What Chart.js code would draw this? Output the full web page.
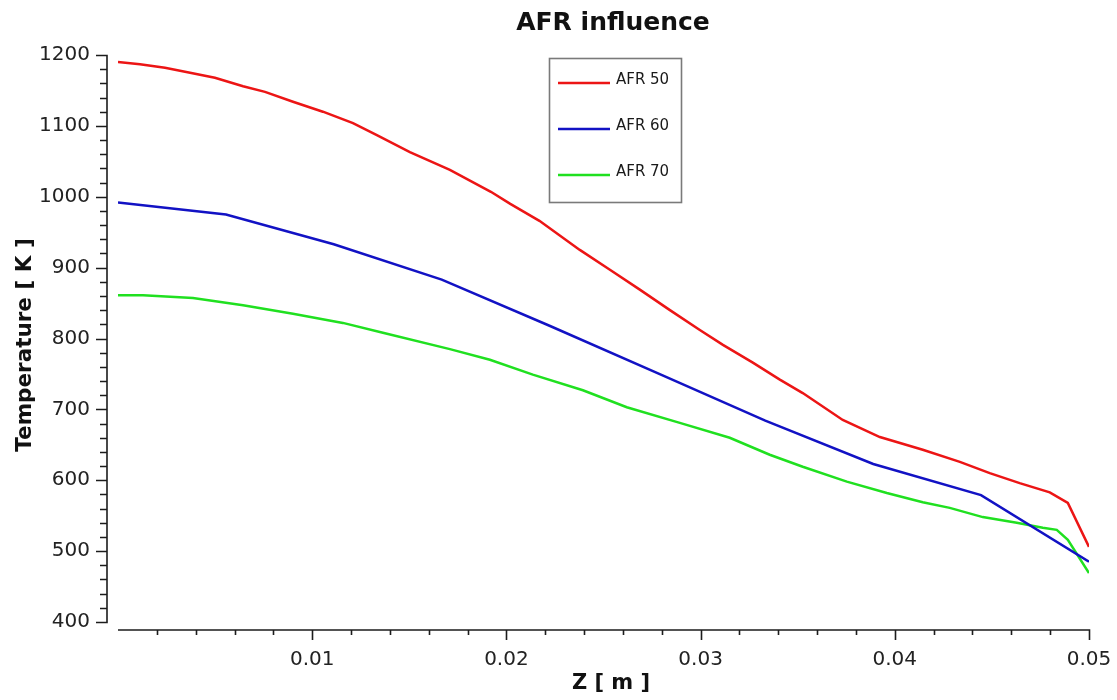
<!DOCTYPE html>
<html>
<head>
<meta charset="utf-8">
<title>AFR influence</title>
<script src="https://cdn.jsdelivr.net/npm/chart.js@4/dist/chart.umd.min.js"></script>
<style>
  html, body { margin: 0; padding: 0; background: #ffffff; }
  #wrap { width: 1117px; height: 700px; }
</style>
</head>
<body>
<div id="wrap"><canvas id="c" width="1117" height="700"></canvas></div>
<script>
// Axial position Z [m] and temperature [K] for each air/fuel ratio case
const seriesLabels = ['AFR 50', 'AFR 60', 'AFR 70'];

const zAfr50 = [0, 0.00113, 0.00242, 0.00371, 0.00499, 0.00644, 0.00757, 0.00901, 0.01055, 0.0121,
  0.01333, 0.01503, 0.01709, 0.0192, 0.0202, 0.0217, 0.02378, 0.02533, 0.02687, 0.02842,
  0.02996, 0.03115, 0.03269, 0.03408, 0.03526, 0.03732, 0.03923, 0.04144, 0.04335, 0.04489,
  0.04643, 0.04798, 0.04891, 0.05];
const tAfr50 = [1190, 1187, 1182, 1175, 1168, 1156, 1148, 1134, 1120, 1104,
  1087, 1063, 1038, 1007, 990, 966, 925, 897, 869, 840,
  812, 791, 766, 742, 723, 685, 661, 643, 626, 610,
  596, 583, 568, 506];

const zAfr60 = [0, 0.00556, 0.01111, 0.01667, 0.02222, 0.02778, 0.03333, 0.03889, 0.04444, 0.05];
const tAfr60 = [992, 975, 933, 883, 818, 751, 684, 623, 579, 485];

const zAfr70 = [0, 0.00129, 0.00386, 0.00644, 0.00901, 0.01158, 0.01364, 0.01709, 0.01915, 0.02136,
  0.02394, 0.0262, 0.02893, 0.0315, 0.03356, 0.03526, 0.03753, 0.03959, 0.04144, 0.04283,
  0.04453, 0.04628, 0.04762, 0.04834, 0.04891, 0.05];
const tAfr70 = [861, 861, 857, 847, 835, 822, 808, 785, 770, 749,
  727, 703, 681, 660, 636, 619, 598, 582, 569, 561,
  548, 540, 533, 530, 516, 469];

// Axis ranges and tick spacing
const zMin = 0, zMax = 0.05, zMajor = 0.01, zMinor = 0.002;
const tMin = 400, tMax = 1200, tMajor = 100, tMinor = 20;

// Chart and axis titles
const chartTitle = 'AFR influence';
const xTitle = 'Z [ m ]';
const yTitle = 'Temperature [ K ]';

const seriesColors = ['#ec1515', '#1212c4', '#20e020'];

function pairs(xs, ys) { return xs.map((x, i) => ({ x: x, y: ys[i] })); }

// Axis lines sit slightly apart from the plotting area, with major and minor tick marks
const detachedAxes = {
  id: 'detachedAxes',
  afterDraw(chart) {
    const { ctx, chartArea, scales } = chart;
    const xs = scales.x, ys = scales.y;
    const axisX = chartArea.left - 11;
    const axisY = chartArea.bottom + 8;
    ctx.save();
    ctx.strokeStyle = '#1c1c1c';
    ctx.lineWidth = 1.6;
    ctx.lineCap = 'butt';
    ctx.beginPath();
    ctx.moveTo(axisX, ys.getPixelForValue(tMax));
    ctx.lineTo(axisX, ys.getPixelForValue(tMin));
    const nT = Math.round((tMax - tMin) / tMinor);
    for (let i = 0; i <= nT; i++) {
      const v = tMin + i * tMinor;
      const py = Math.round(ys.getPixelForValue(v)) + 0.5;
      const len = (v % tMajor === 0) ? 11 : 7;
      ctx.moveTo(axisX - len, py);
      ctx.lineTo(axisX + 0.8, py);
    }
    ctx.moveTo(xs.getPixelForValue(zMin), axisY);
    ctx.lineTo(xs.getPixelForValue(zMax), axisY);
    const nZ = Math.round((zMax - zMin) / zMinor);
    for (let i = 1; i <= nZ; i++) {
      const px = Math.round(xs.getPixelForValue(zMin + i * zMinor)) + 0.5;
      const len = (i % 5 === 0) ? 10 : 5;
      ctx.moveTo(px, axisY - 0.8);
      ctx.lineTo(px, axisY + len);
    }
    ctx.stroke();
    ctx.restore();
  }
};

// Chart title and axis titles
const titles = {
  id: 'titles',
  afterDraw(chart) {
    const { ctx } = chart;
    ctx.save();
    ctx.fillStyle = '#111111';
    ctx.textAlign = 'center';
    ctx.textBaseline = 'middle';
    ctx.font = 'bold 25px "DejaVu Sans", sans-serif';
    ctx.fillText(chartTitle, 613, 23);
    ctx.font = 'bold 21px "DejaVu Sans", sans-serif';
    ctx.fillText(xTitle, 611, 684);
    ctx.translate(25, 345);
    ctx.rotate(-Math.PI / 2);
    ctx.font = 'bold 21.5px "DejaVu Sans", sans-serif';
    ctx.fillText(yTitle, 0, 0);
    ctx.restore();
  }
};

// Boxed legend placed inside the plot
const boxedLegend = {
  id: 'boxedLegend',
  afterDraw(chart) {
    const { ctx } = chart;
    const left = 549, top = 58, w = 132, h = 144;
    ctx.save();
    ctx.fillStyle = '#ffffff';
    ctx.fillRect(left, top, w, h);
    ctx.strokeStyle = '#7a7a7a';
    ctx.lineWidth = 1.6;
    ctx.strokeRect(left + 0.5, top + 0.5, w, h);
    ctx.font = '15px "DejaVu Sans", sans-serif';
    ctx.textBaseline = 'middle';
    ctx.textAlign = 'left';
    chart.data.datasets.forEach((ds, i) => {
      const y = 83 + i * 46;
      ctx.strokeStyle = ds.borderColor;
      ctx.lineWidth = 2.5;
      ctx.beginPath();
      ctx.moveTo(558, y);
      ctx.lineTo(610, y);
      ctx.stroke();
      ctx.fillStyle = '#1a1a1a';
      ctx.fillText(ds.label, 616, y - 3);
    });
    ctx.restore();
  }
};

const datasets = [
  { label: seriesLabels[0], data: pairs(zAfr50, tAfr50), borderColor: seriesColors[0] },
  { label: seriesLabels[1], data: pairs(zAfr60, tAfr60), borderColor: seriesColors[1] },
  { label: seriesLabels[2], data: pairs(zAfr70, tAfr70), borderColor: seriesColors[2] }
].map(d => Object.assign(d, { borderWidth: 2.5, pointRadius: 0, tension: 0, fill: false }));

new Chart(document.getElementById('c'), {
  type: 'line',
  data: { datasets: datasets },
  plugins: [detachedAxes, boxedLegend, titles],
  options: {
    responsive: false,
    animation: false,
    devicePixelRatio: 1,
    layout: { padding: { left: 0, right: 28, top: 55, bottom: 0 } },
    plugins: {
      legend: { display: false },
      tooltip: { enabled: false },
      title: { display: false }
    },
    scales: {
      x: {
        type: 'linear',
        min: zMin, max: zMax,
        grid: { display: false, drawTicks: false },
        border: { display: false },
        afterFit(scale) {
          scale.height = 78;
          scale.paddingLeft = 0;
          scale.paddingRight = 0;
        },
        ticks: {
          stepSize: zMajor,
          padding: 26,
          color: '#222222',
          font: { family: 'DejaVu Sans', size: 20 },
          maxRotation: 0,
          callback: v => (Math.abs(v) < 1e-9 ? '' : String(Math.round(v * 100) / 100))
        }
      },
      y: {
        type: 'linear',
        min: tMin, max: tMax,
        grid: { display: false, drawTicks: false },
        border: { display: false },
        afterFit(scale) {
          scale.width = 118;
          scale.paddingTop = 0;
          scale.paddingBottom = 0;
        },
        ticks: {
          stepSize: tMajor,
          padding: 28,
          color: '#222222',
          font: { family: 'DejaVu Sans', size: 20 },
          callback: v => String(v)
        }
      }
    }
  }
});
</script>
</body>
</html>
